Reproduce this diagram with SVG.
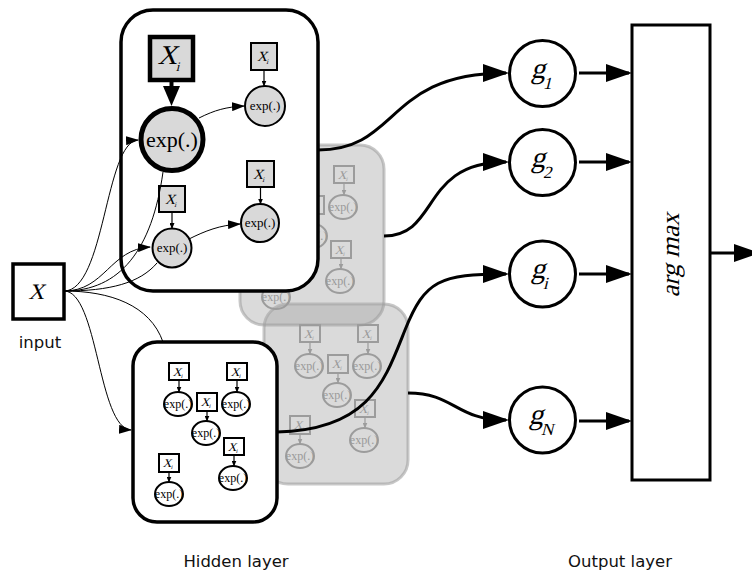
<svg xmlns="http://www.w3.org/2000/svg" width="752" height="574" viewBox="0 0 752 574">
<style>
text{font-family:'Liberation Serif','Times New Roman',Times,serif}
.it{font-style:normal;transform-box:fill-box;transform-origin:50% 50%;transform:skewX(-14deg)}
.lbl{font-family:'DejaVu Sans',Verdana,sans-serif;font-size:16.5px;fill:#111}
.wpanel{fill:#fff;stroke:#000;stroke-width:3.5}
.gpanel{fill:#a6a6a6;fill-opacity:.42;stroke:#9a9a9a;stroke-opacity:.55;stroke-width:3}
.tbox{fill:#d9d9d9;stroke:#000;stroke-width:2}
.tcirc{fill:#d9d9d9;stroke:#000;stroke-width:2}
.sub .box{fill:#fff;stroke:#000;stroke-width:2}
.sub .el{fill:#fff;stroke:#000;stroke-width:2}
.sub .ar{stroke:#000;stroke-width:1.2;fill:none;marker-end:url(#ms)}
.sub text{fill:#000}
.gsub .box{fill:none;stroke:#9c9c9c;stroke-width:2}
.gsub .el{fill:none;stroke:#9c9c9c;stroke-width:2}
.gsub .ar{stroke:#9c9c9c;stroke-width:1.2;fill:none;marker-end:url(#msg)}
.gsub text{fill:#999}
.xb{font-size:12px;text-anchor:middle}
.xs{font-size:6px}
.ex{font-size:12px;text-anchor:middle}
.thin{fill:none;stroke:#000;stroke-width:1}
.thinar{fill:none;stroke:#000;stroke-width:1;marker-end:url(#mm)}
.thick{fill:none;stroke:#000;stroke-width:3;marker-end:url(#mb)}
.gnode{fill:#fff;stroke:#000;stroke-width:3}
.gl{font-size:29px}
.gs{font-size:17px}
</style>
<defs>
<marker id="mb" markerUnits="userSpaceOnUse" markerWidth="26" markerHeight="18" refX="23" refY="9" orient="auto"><path d="M0,0 L26,9 L0,18 Z" fill="#000"/></marker>
<marker id="mm" markerUnits="userSpaceOnUse" markerWidth="13" markerHeight="9" refX="12" refY="4.5" orient="auto"><path d="M0,0 L13,4.5 L0,9 Z" fill="#000"/></marker>
<marker id="ms" markerUnits="userSpaceOnUse" markerWidth="6" markerHeight="5" refX="5.5" refY="2.5" orient="auto"><path d="M0,0 L6,2.5 L0,5 Z" fill="#000"/></marker>
<marker id="msg" markerUnits="userSpaceOnUse" markerWidth="6" markerHeight="5" refX="5.5" refY="2.5" orient="auto"><path d="M0,0 L6,2.5 L0,5 Z" fill="#9c9c9c"/></marker>
</defs>
<rect width="752" height="574" fill="#fff"/>

<!-- grey panel 2 -->
<g id="panel-grey2" class="gsub" transform="translate(131,-38)">
<rect class="gpanel" x="133" y="342" width="144" height="180" rx="24"/>
<rect class="box" x="169" y="363" width="20" height="17"/><text class="xb it" x="178" y="376">X<tspan class="xs" x="183" y="378">i</tspan></text><path class="ar" d="M179,380 L179,392"/><ellipse class="el" cx="178" cy="404" rx="14" ry="12"/><text class="ex" x="178" y="408">exp(.)</text>
<rect class="box" x="227" y="363" width="20" height="17"/><text class="xb it" x="236" y="376">X<tspan class="xs" x="241" y="378">i</tspan></text><path class="ar" d="M237,380 L237,392"/><ellipse class="el" cx="236" cy="404" rx="14" ry="12"/><text class="ex" x="236" y="408">exp(.)</text>
<rect class="box" x="197" y="393" width="20" height="18"/><text class="xb it" x="206" y="406">X<tspan class="xs" x="211" y="408">i</tspan></text><path class="ar" d="M207,411 L207,421"/><ellipse class="el" cx="206" cy="433" rx="14" ry="12"/><text class="ex" x="206" y="437">exp(.)</text>
<rect class="box" x="224" y="438" width="20" height="17"/><text class="xb it" x="233" y="451">X<tspan class="xs" x="238" y="453">i</tspan></text><path class="ar" d="M234,455 L234,466"/><ellipse class="el" cx="233" cy="478" rx="14" ry="12"/><text class="ex" x="233" y="482">exp(.)</text>
<rect class="box" x="159" y="454" width="20" height="18"/><text class="xb it" x="168" y="467">X<tspan class="xs" x="173" y="469">i</tspan></text><path class="ar" d="M169,472 L169,482"/><ellipse class="el" cx="169" cy="494" rx="14" ry="12"/><text class="ex" x="169" y="498">exp(.)</text>
</g>

<!-- grey panel 1 -->
<g id="panel-grey1" class="gsub" transform="translate(107,-197)">
<rect class="gpanel" x="133" y="342" width="144" height="180" rx="24"/>
<rect class="box" x="169" y="363" width="20" height="17"/><text class="xb it" x="178" y="376">X<tspan class="xs" x="183" y="378">i</tspan></text><path class="ar" d="M179,380 L179,392"/><ellipse class="el" cx="178" cy="404" rx="14" ry="12"/><text class="ex" x="178" y="408">exp(.)</text>
<rect class="box" x="227" y="363" width="20" height="17"/><text class="xb it" x="236" y="376">X<tspan class="xs" x="241" y="378">i</tspan></text><path class="ar" d="M237,380 L237,392"/><ellipse class="el" cx="236" cy="404" rx="14" ry="12"/><text class="ex" x="236" y="408">exp(.)</text>
<rect class="box" x="197" y="393" width="20" height="18"/><text class="xb it" x="206" y="406">X<tspan class="xs" x="211" y="408">i</tspan></text><path class="ar" d="M207,411 L207,421"/><ellipse class="el" cx="206" cy="433" rx="14" ry="12"/><text class="ex" x="206" y="437">exp(.)</text>
<rect class="box" x="224" y="438" width="20" height="17"/><text class="xb it" x="233" y="451">X<tspan class="xs" x="238" y="453">i</tspan></text><path class="ar" d="M234,455 L234,466"/><ellipse class="el" cx="233" cy="478" rx="14" ry="12"/><text class="ex" x="233" y="482">exp(.)</text>
<rect class="box" x="159" y="454" width="20" height="18"/><text class="xb it" x="168" y="467">X<tspan class="xs" x="173" y="469">i</tspan></text><path class="ar" d="M169,472 L169,482"/><ellipse class="el" cx="169" cy="494" rx="14" ry="12"/><text class="ex" x="169" y="498">exp(.)</text>
</g>

<!-- top panel -->
<g id="panel-top">
<rect class="wpanel" x="121" y="10" width="197" height="281" rx="32"/>
<g id="node-big">
<rect x="150" y="37" width="43" height="43" fill="#d9d9d9" stroke="#000" stroke-width="4.5"/>
<text class="it" x="169" y="64" font-size="27" text-anchor="middle">X<tspan x="181" y="71" font-size="13">i</tspan></text>
<path d="M171.5,80 L171.5,88" stroke="#000" stroke-width="4"/>
<path d="M163,86 L180,86 L171.5,106 Z" fill="#000"/>
<circle cx="172" cy="139.5" r="31" fill="#d9d9d9" stroke="#000" stroke-width="5"/>
<text x="172" y="147" font-size="22" text-anchor="middle">exp(.)</text>
</g>
<g id="node-t1">
<rect class="tbox" x="251" y="43" width="26" height="27"/>
<text class="it" x="263" y="61" font-size="14" text-anchor="middle">X<tspan x="269" y="64" font-size="7">i</tspan></text>
<path d="M264,70 L264,86" stroke="#000" stroke-width="1.2" marker-end="url(#ms)"/>
<circle class="tcirc" cx="265" cy="106" r="20"/>
<text x="265" y="110" font-size="13" text-anchor="middle">exp(.)</text>
</g>
<g id="node-t2">
<rect class="tbox" x="247" y="161" width="27" height="26"/>
<text class="it" x="259" y="179" font-size="14" text-anchor="middle">X<tspan x="265" y="182" font-size="7">i</tspan></text>
<path d="M260.5,187 L260.5,204" stroke="#000" stroke-width="1.2" marker-end="url(#ms)"/>
<circle class="tcirc" cx="260" cy="223" r="19"/>
<text x="260" y="227" font-size="13" text-anchor="middle">exp(.)</text>
</g>
<g id="node-t3">
<rect class="tbox" x="159" y="186" width="26" height="26"/>
<text class="it" x="171" y="204" font-size="14" text-anchor="middle">X<tspan x="177" y="207" font-size="7">i</tspan></text>
<path d="M172,212 L172,228.5" stroke="#000" stroke-width="1.2" marker-end="url(#ms)"/>
<circle class="tcirc" cx="172" cy="248" r="19.5"/>
<text x="172" y="252" font-size="13" text-anchor="middle">exp(.)</text>
</g>
<path class="thinar" d="M199,118 C 215,110 226,107 244,106"/>
<path class="thinar" d="M189,239 C 205,231 220,225 240,224"/>
</g>

<!-- bottom panel -->
<g id="panel-bottom" class="sub">
<rect class="wpanel" x="133" y="342" width="144" height="180" rx="24"/>
<rect class="box" x="169" y="363" width="20" height="17"/><text class="xb it" x="178" y="376">X<tspan class="xs" x="183" y="378">i</tspan></text><path class="ar" d="M179,380 L179,392"/><ellipse class="el" cx="178" cy="404" rx="14" ry="12"/><text class="ex" x="178" y="408">exp(.)</text>
<rect class="box" x="227" y="363" width="20" height="17"/><text class="xb it" x="236" y="376">X<tspan class="xs" x="241" y="378">i</tspan></text><path class="ar" d="M237,380 L237,392"/><ellipse class="el" cx="236" cy="404" rx="14" ry="12"/><text class="ex" x="236" y="408">exp(.)</text>
<rect class="box" x="197" y="393" width="20" height="18"/><text class="xb it" x="206" y="406">X<tspan class="xs" x="211" y="408">i</tspan></text><path class="ar" d="M207,411 L207,421"/><ellipse class="el" cx="206" cy="433" rx="14" ry="12"/><text class="ex" x="206" y="437">exp(.)</text>
<rect class="box" x="224" y="438" width="20" height="17"/><text class="xb it" x="233" y="451">X<tspan class="xs" x="238" y="453">i</tspan></text><path class="ar" d="M234,455 L234,466"/><ellipse class="el" cx="233" cy="478" rx="14" ry="12"/><text class="ex" x="233" y="482">exp(.)</text>
<rect class="box" x="159" y="454" width="20" height="18"/><text class="xb it" x="168" y="467">X<tspan class="xs" x="173" y="469">i</tspan></text><path class="ar" d="M169,472 L169,482"/><ellipse class="el" cx="169" cy="494" rx="14" ry="12"/><text class="ex" x="169" y="498">exp(.)</text>
</g>

<!-- input -->
<g id="node-X">
<rect x="13" y="264" width="51" height="55" fill="#fff" stroke="#000" stroke-width="3.5"/>
<text class="it" x="38" y="299" font-size="22" text-anchor="middle">X</text>
</g>
<text class="lbl" x="40" y="348" text-anchor="middle">input</text>

<!-- output nodes -->
<g id="node-g1"><circle class="gnode" cx="542.5" cy="73.5" r="33"/><text class="it gl" x="532" y="78">g<tspan class="gs" x="547" y="89">1</tspan></text></g>
<g id="node-g2"><circle class="gnode" cx="542.5" cy="162.5" r="33"/><text class="it gl" x="532" y="167">g<tspan class="gs" x="547" y="178">2</tspan></text></g>
<g id="node-gi"><circle class="gnode" cx="542.5" cy="274" r="33"/><text class="it gl" x="532" y="278">g<tspan class="gs" x="547" y="289">i</tspan></text></g>
<g id="node-gN"><circle class="gnode" cx="542.5" cy="420" r="33"/><text class="it gl" x="530" y="424">g<tspan class="gs" x="545" y="435">N</tspan></text></g>
<g id="node-argmax">
<rect x="632" y="25" width="78" height="455" fill="#fff" stroke="#000" stroke-width="3"/>
<g transform="translate(679,253) rotate(-90)"><text class="it" x="0" y="0" font-size="26" text-anchor="middle">arg max</text></g>
</g>

<!-- connectors -->
<g id="connectors">
<path class="thinar" d="M64,291 C 105,291 105,142 138,140"/>
<path class="thinar" d="M64,291 C 105,291 110,249 150,247"/>
<path class="thin" d="M64,291 C 120,291 152,250 163,172"/>
<path class="thin" d="M64,291 C 110,291 140,283 157,263"/>
<path class="thinar" d="M64,291 C 98,291 98,428 131,430"/>
<path class="thin" d="M64,291 C 110,291 150,305 163,342"/>
<path class="thick" d="M318,150 C 400,150 385,73 506,73"/>
<path class="thick" d="M384,236 C 440,236 420,162 506,162"/>
<path class="thick" d="M277,432 C 370,430 385,380 405,330 C 425,280 440,274 506,274"/>
<path class="thick" d="M408,393 C 455,393 455,420 506,420"/>
<path class="thick" d="M579,73 L629,73"/>
<path class="thick" d="M579,162 L629,162"/>
<path class="thick" d="M579,274 L629,274"/>
<path class="thick" d="M579,421 L629,421"/>
<path class="thick" d="M711,253 L757,253"/>
</g>

<text class="lbl" x="236" y="567" text-anchor="middle">Hidden layer</text>
<text class="lbl" x="620" y="567" text-anchor="middle">Output layer</text>
</svg>
